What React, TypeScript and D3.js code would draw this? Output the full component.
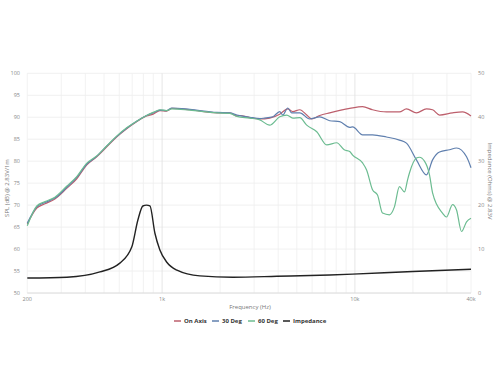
import * as d3 from 'd3';

// [frequency Hz, dB]
const onAxis: [number, number][] = [
  [200, 65.7], [224, 69.3], [247, 70.3], [278, 71.4], [320, 73.8], [361, 76], [406, 79.1], [458, 81],
  [515, 83.2], [581, 85.5], [655, 87.4], [738, 89], [831, 90.3], [899, 90.7], [975, 91.5], [1055, 91.4],
  [1124, 92], [1393, 91.7], [1923, 91], [2245, 91], [2443, 90.3], [2530, 90.4], [2850, 89.9], [3213, 89.6],
  [3614, 89.8], [4075, 90.7], [4487, 91.9], [4762, 91.3], [5180, 91.7], [5625, 90.5], [5970, 89.6],
  [6570, 90.4], [7400, 91], [9400, 92], [10960, 92.4], [12340, 91.7], [14580, 91.2], [17020, 91.2],
  [18500, 91.9], [20850, 91], [23500, 91.9], [25280, 91.7], [27470, 90.5], [32100, 91], [36150, 91.2],
  [40000, 90.3],
];

const deg30: [number, number][] = [
  [200, 65.9], [224, 69.6], [247, 70.6], [278, 71.6], [320, 74], [361, 76.3], [406, 79.3], [458, 81.1],
  [515, 83.4], [581, 85.6], [655, 87.5], [738, 89.1], [831, 90.4], [899, 91], [975, 91.6], [1055, 91.5],
  [1124, 92.1], [1393, 91.8], [1923, 91.1], [2245, 91], [2443, 90.5], [2850, 90], [3213, 89.7],
  [3400, 89.8], [3750, 90.1], [4075, 91.3], [4226, 90.5], [4487, 92.1], [4700, 91], [5180, 91],
  [5830, 89.6], [6570, 90.1], [7400, 89.2], [8340, 89], [9400, 87.7], [9730, 87.8], [10960, 86],
  [12340, 86], [14580, 85.5], [17020, 84.8], [18500, 84.1], [20850, 80.3], [23500, 76.9], [25280, 80.3],
  [27470, 82.1], [30960, 82.6], [33650, 83], [37930, 81], [40000, 78.5],
];

const deg60: [number, number][] = [
  [200, 65.3], [224, 69.8], [247, 70.8], [278, 71.8], [320, 74.3], [361, 76.5], [406, 79.5], [458, 81.2],
  [515, 83.4], [581, 85.7], [655, 87.6], [738, 89.1], [831, 90.4], [899, 91.1], [975, 91.7], [1055, 91.5],
  [1124, 91.9], [1393, 91.6], [1923, 91], [2245, 90.9], [2443, 90.2], [2850, 89.8], [3213, 89.4],
  [3614, 88.2], [4075, 90.1], [4430, 90.5], [4762, 89.8], [5180, 89.9], [5625, 88.2], [6340, 86.7],
  [7140, 83.7], [8050, 84.2], [8800, 82.6], [9400, 82.2], [9730, 81.4], [10960, 79.6], [11500, 78],
  [12340, 73.5], [13100, 72.3], [13900, 68.2], [15110, 67.8], [16030, 69.6], [17020, 74.2], [18070, 73],
  [18740, 75.7], [19180, 77.3], [20850, 80.7], [21620, 80.9], [22950, 80], [24370, 76.9], [25280, 72.8],
  [28460, 68.2], [29830, 67.3], [32100, 70.1], [33650, 68.9], [35720, 64], [37930, 66.2], [40000, 67],
];

// [frequency Hz, ohms]
const impedance: [number, number][] = [
  [200, 3.4], [321, 3.6], [476, 4.8], [604, 6.8], [697, 10.5], [749, 16.6], [795, 19.8], [830, 20],
  [865, 19.8], [918, 13.6], [974, 9.8], [1058, 7], [1194, 5.2], [1570, 3.9], [2327, 3.6], [3937, 3.8],
  [7400, 4.1], [9730, 4.3], [20000, 4.9], [40000, 5.4],
];

const splTicks = [50, 55, 60, 65, 70, 75, 80, 85, 90, 95, 100];
const ohmTicks = [0, 10, 20, 30, 40, 50];
const freqTicks = [200, 1000, 10000, 40000];
const freqLabels = ['200', '1k', '10k', '40k'];

const series = [
  { name: 'On Axis', data: onAxis, color: '#bd5f6c', axis: 'spl' },
  { name: '30 Deg', data: deg30, color: '#5f7fae', axis: 'spl' },
  { name: '60 Deg', data: deg60, color: '#6cbc91', axis: 'spl' },
  { name: 'Impedance', data: impedance, color: '#222222', axis: 'ohm' },
];

const W = 500;
const H = 392;
const left = 27.3;
const right = 471;
const top = 73.3;
const bottom = 293;
const font = "'Open Sans', 'DejaVu Sans', sans-serif";

export default function App() {
  const x = d3.scaleLog().domain([200, 40000]).range([left, right]);
  const ySpl = d3.scaleLinear().domain([50, 100]).range([bottom, top]);
  const yOhm = d3.scaleLinear().domain([0, 50]).range([bottom, top]);

  // log grid: every 100 / 1k / 10k step
  const grid: number[] = [];
  for (let d = 100; d <= 10000; d *= 10) {
    for (let k = 1; k <= 9; k++) {
      const f = d * k;
      if (f >= 200 && f <= 40000) grid.push(f);
    }
  }

  const line = (y: d3.ScaleLinear<number, number>) =>
    d3.line<[number, number]>()
      .x((d) => x(d[0]))
      .y((d) => y(d[1]))
      .curve(d3.curveMonotoneX);

  const legendX = [174, 212, 248, 283];

  return (
    <svg width={W} height={H} style={{ position: 'absolute', left: 0, top: 0 }}>
      <rect width={W} height={H} fill="#fff" />
      {/* grid */}
      {splTicks.map((t) => (
        <line key={'h' + t} x1={left} x2={right} y1={ySpl(t)} y2={ySpl(t)} stroke="#ececec" strokeWidth={0.8} />
      ))}
      {grid.map((f) => (
        <line key={'v' + f} x1={x(f)} x2={x(f)} y1={top} y2={bottom}
          stroke={f === 1000 || f === 10000 ? '#e0e0e0' : '#efefef'} strokeWidth={0.8} />
      ))}
      <line x1={left} x2={right} y1={bottom} y2={bottom} stroke="#d8d8d8" strokeWidth={0.8} />

      {/* tick labels */}
      {splTicks.map((t) => (
        <text key={'ls' + t} x={20} y={ySpl(t) + 2} fontSize={5.5} fill="#888" textAnchor="end" fontFamily={font}>{t}</text>
      ))}
      {ohmTicks.map((t) => (
        <text key={'lo' + t} x={478} y={yOhm(t) + 2} fontSize={5.5} fill="#888" fontFamily={font}>{t}</text>
      ))}
      {freqTicks.map((f, i) => (
        <text key={'lf' + f} x={x(f)} y={301} fontSize={5.5} fill="#888" textAnchor="middle" fontFamily={font}>{freqLabels[i]}</text>
      ))}

      {/* axis titles */}
      <text x={250} y={309} fontSize={6} fill="#777" textAnchor="middle" fontFamily={font}>Frequency (Hz)</text>
      <text transform="translate(9,188) rotate(-90)" fontSize={6} fill="#777" textAnchor="middle" fontFamily={font}>SPL (dB) @ 2.83V/1m</text>
      <text transform="translate(488,181) rotate(90)" fontSize={6} fill="#777" textAnchor="middle" fontFamily={font}>Impedance (Ohms) @ 2.83V</text>

      {/* series */}
      {series.map((s) => (
        <path key={s.name} d={line(s.axis === 'spl' ? ySpl : yOhm)(s.data) || ''} fill="none"
          stroke={s.color} strokeWidth={s.axis === 'spl' ? 1.2 : 1.4} />
      ))}

      {/* legend */}
      {series.map((s, i) => (
        <g key={'lg' + s.name} transform={`translate(${legendX[i]},321)`}>
          <line x1={0} x2={7} y1={0} y2={0} stroke={s.color} strokeWidth={1.5} />
          <text x={10} y={2.2} fontSize={6} fontWeight="bold" fill="#333" fontFamily={font}>{s.name}</text>
        </g>
      ))}
    </svg>
  );
}
